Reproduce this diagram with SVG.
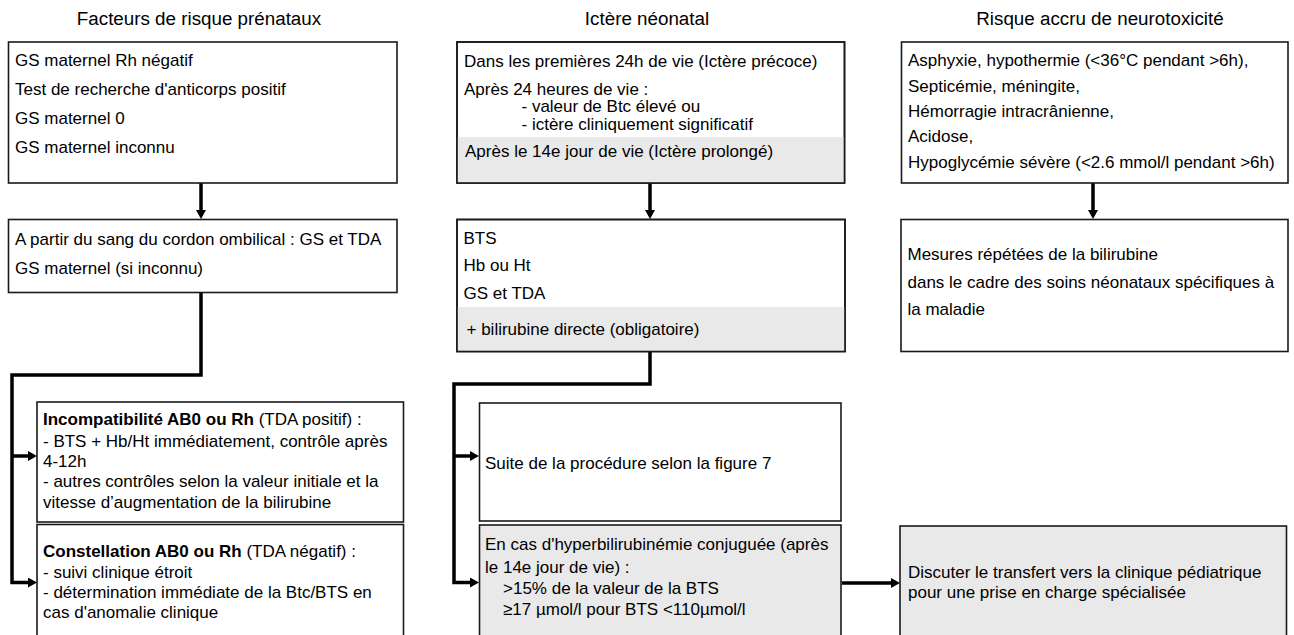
<svg xmlns="http://www.w3.org/2000/svg" width="1294" height="635" viewBox="0 0 1294 635">
<style>
  text { font-family: "Liberation Sans", Arial, sans-serif; fill: #000; }
  .title { font-size: 18.8px; text-anchor: middle; }
  .t { font-size: 17px; }
  .b { font-weight: bold; }
  .box { fill: #fff; stroke: #1a1a1a; stroke-width: 1.6; }
  .grey { fill: #e9e9e9; stroke: none; }
  .greybox { fill: #e9e9e9; stroke: #1a1a1a; stroke-width: 1.6; }
  .frame { fill: none; stroke: #1a1a1a; stroke-width: 1.6; }
  .conn { fill: none; stroke: #000; stroke-width: 3.5; stroke-linejoin: miter; }
</style>
<defs>
  <marker id="arr" markerUnits="userSpaceOnUse" markerWidth="10" markerHeight="10" refX="0" refY="5" orient="auto">
    <path d="M0,0 L9,5 L0,10 z" fill="#000"/>
  </marker>
</defs>
<rect width="1294" height="635" fill="#fff"/>

<g id="titles">
  <text class="title" x="199" y="25">Facteurs de risque prénataux</text>
  <text class="title" x="647" y="25">Ictère néonatal</text>
  <text class="title" x="1100" y="25">Risque accru de neurotoxicité</text>
</g>

<g id="connectors">
  <path class="conn" d="M201,183 V210" marker-end="url(#arr)"/>
  <path class="conn" d="M201,293 V375 H12 V582.5 H28" marker-end="url(#arr)"/>
  <path class="conn" d="M12,456 H28" marker-end="url(#arr)"/>
  <path class="conn" d="M650,183 V210" marker-end="url(#arr)"/>
  <path class="conn" d="M650,352 V384 H454 V582.5 H470" marker-end="url(#arr)"/>
  <path class="conn" d="M454,456 H470" marker-end="url(#arr)"/>
  <path class="conn" d="M842,583 H891" marker-end="url(#arr)"/>
  <path class="conn" d="M1093,183 V210" marker-end="url(#arr)"/>
</g>

<g id="node-prenatal-risks">
  <rect class="box" x="8.5" y="42" width="388.5" height="141"/>
  <text class="t" x="15" y="66">GS maternel Rh négatif</text>
  <text class="t" x="15" y="94.5">Test de recherche d'anticorps positif</text>
  <text class="t" x="15" y="123.5">GS maternel 0</text>
  <text class="t" x="15" y="152.5">GS maternel inconnu</text>
</g>

<g id="node-cord-blood">
  <rect class="box" x="8.5" y="219.5" width="388.5" height="73"/>
  <text class="t" x="15" y="245">A partir du sang du cordon ombilical : GS et TDA</text>
  <text class="t" x="15" y="274">GS maternel (si inconnu)</text>
</g>

<g id="node-incompatibility">
  <rect class="box" x="37" y="402" width="366.5" height="120"/>
  <text class="t" x="43" y="425"><tspan class="b">Incompatibilité AB0 ou Rh</tspan> (TDA positif) :</text>
  <text class="t" x="43" y="446.5">- BTS + Hb/Ht immédiatement, contrôle après</text>
  <text class="t" x="43" y="467">4-12h</text>
  <text class="t" x="43" y="487">- autres contrôles selon la valeur initiale et la</text>
  <text class="t" x="43" y="507.5">vitesse d’augmentation de la bilirubine</text>
</g>

<g id="node-constellation">
  <rect class="box" x="37" y="524.5" width="366.5" height="120"/>
  <text class="t" x="43" y="556.5"><tspan class="b">Constellation AB0 ou Rh</tspan> (TDA négatif) :</text>
  <text class="t" x="43" y="577.5">- suivi clinique étroit</text>
  <text class="t" x="43" y="597.5">- détermination immédiate de la Btc/BTS en</text>
  <text class="t" x="43" y="617.5">cas d'anomalie clinique</text>
</g>

<g id="node-neonatal-jaundice">
  <rect class="box" x="457" y="42" width="387.5" height="141"/>
  <rect class="grey" x="457" y="137" width="387.5" height="46"/>
  <rect class="frame" x="457" y="42" width="387.5" height="141"/>
  <text class="t" x="464" y="66.5">Dans les premières 24h de vie (Ictère précoce)</text>
  <text class="t" x="464" y="94.5">Après 24 heures de vie :</text>
  <text class="t" x="521.5" y="111.5">- valeur de Btc élevé ou</text>
  <text class="t" x="521.5" y="130">- ictère cliniquement significatif</text>
  <text class="t" x="465" y="156.5">Après le 14e jour de vie (Ictère prolongé)</text>
</g>

<g id="node-lab-tests">
  <rect class="box" x="457" y="219.5" width="388" height="132"/>
  <rect class="grey" x="457" y="307" width="388" height="44.5"/>
  <rect class="frame" x="457" y="219.5" width="388" height="132"/>
  <text class="t" x="463.5" y="243.5">BTS</text>
  <text class="t" x="463.5" y="271">Hb ou Ht</text>
  <text class="t" x="463.5" y="299">GS et TDA</text>
  <text class="t" x="466.5" y="335">+ bilirubine directe (obligatoire)</text>
</g>

<g id="node-figure7">
  <rect class="box" x="479.5" y="403" width="361.5" height="118"/>
  <text class="t" x="485" y="469">Suite de la procédure selon la figure 7</text>
</g>

<g id="node-conjugated">
  <rect class="greybox" x="479.5" y="525" width="361.5" height="120"/>
  <text class="t" x="485" y="549.5">En cas d'hyperbilirubinémie conjuguée (après</text>
  <text class="t" x="485" y="572.5">le 14e jour de vie) :</text>
  <text class="t" x="503" y="594">&gt;15% de la valeur de la BTS</text>
  <text class="t" x="503" y="615">≥17 µmol/l pour BTS &lt;110µmol/l</text>
</g>

<g id="node-neurotox-risks">
  <rect class="box" x="901.5" y="42" width="386.5" height="141"/>
  <text class="t" x="908" y="66">Asphyxie, hypothermie (&lt;36°C pendant &gt;6h),</text>
  <text class="t" x="908" y="91.5">Septicémie, méningite,</text>
  <text class="t" x="908" y="116.5">Hémorragie intracrânienne,</text>
  <text class="t" x="908" y="142">Acidose,</text>
  <text class="t" x="908" y="167.5">Hypoglycémie sévère (&lt;2.6 mmol/l pendant &gt;6h)</text>
</g>

<g id="node-repeated-measures">
  <rect class="box" x="901" y="219.5" width="387" height="132"/>
  <text class="t" x="907.5" y="259.5">Mesures répétées de la bilirubine</text>
  <text class="t" x="907.5" y="287.5">dans le cadre des soins néonataux spécifiques à</text>
  <text class="t" x="907.5" y="315">la maladie</text>
</g>

<g id="node-transfer">
  <rect class="greybox" x="900" y="526" width="386.5" height="120"/>
  <text class="t" x="908" y="577.5">Discuter le transfert vers la clinique pédiatrique</text>
  <text class="t" x="908" y="597.5">pour une prise en charge spécialisée</text>
</g>
</svg>
